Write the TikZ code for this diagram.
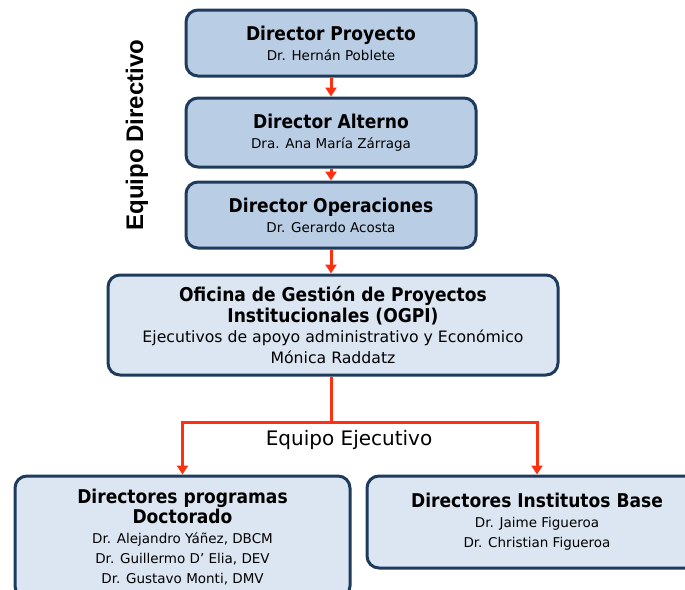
\documentclass[tikz,border=0pt]{standalone}
\usepackage{fontspec}
\setmainfont{DejaVu Sans}
\newfontfamily\condensada{DejaVu Sans Condensed}
\newfontfamily\arialfont{Liberation Sans}[BoldFont={Liberation Sans Bold}]
\usepackage[HTML]{xcolor}
\usetikzlibrary{positioning, arrows, arrows.meta}

\definecolor{borde}{HTML}{1F3B5C}
\definecolor{azul}{HTML}{B9CDE5}
\definecolor{celeste}{HTML}{DCE6F2}
\definecolor{rojo}{HTML}{FF3010}

\newcommand{\titulo}{\condensada\fontsize{19}{20}\selectfont\bfseries}

\begin{document}
\begin{tikzpicture}[x=1pt, y=-1pt,
  cargo/.style={draw=borde, line width=3pt, rounded corners=12pt, align=center,
    inner sep=0pt, font=\fontsize{13.5}{20}\selectfont},
  flecha/.style={draw=rojo, line width=3pt, -{Triangle[width=11pt,length=9pt]}}]
\useasboundingbox (0,0) rectangle (685,589);
\clip (0,0) rectangle (685,589);

% equipo directivo
\node[cargo, fill=azul, minimum width=290pt, minimum height=66pt] (dp) at (331,43)
  {{\titulo Director Proyecto}\\Dr. Hernán Poblete};
\node[cargo, fill=azul, minimum width=290pt, minimum height=69pt] (da) at (331,132.5)
  {{\titulo Director Alterno}\\Dra. Ana María Zárraga};
\node[cargo, fill=azul, minimum width=290pt, minimum height=66pt] (dop) at (331,215)
  {{\titulo Director Operaciones}\\Dr. Gerardo Acosta};
\node[rotate=90, font=\arialfont\bfseries\fontsize{24}{26}\selectfont] (ed) at (137,135) {Equipo Directivo};

% oficina
\node[cargo, fill=celeste, minimum width=450pt, minimum height=100pt,
  font=\fontsize{15.7}{20.5}\selectfont] (ogpi) at (333,325)
  {{\titulo Oficina de Gestión de Proyectos}\\{\titulo Institucionales (OGPI)}\\
   Ejecutivos de apoyo administrativo y Económico\\Mónica Raddatz};

% equipo ejecutivo
\node[cargo, fill=celeste, minimum width=335pt, minimum height=122pt] (dpd) at (182.5,537)
  {{\titulo Directores programas}\\{\titulo Doctorado}\\Dr. Alejandro Yáñez, DBCM\\
   Dr. Guillermo D’ Elia, DEV\\Dr. Gustavo Monti, DMV};
\node[cargo, fill=celeste, minimum width=340pt, minimum height=92pt] (dib) at (537,522)
  {{\titulo Directores Institutos Base}\\Dr. Jaime Figueroa\\Dr. Christian Figueroa};
\node[font=\fontsize{20}{22}\selectfont] (ee) at (349,440) {Equipo Ejecutivo};

\coordinate (rama) at (331,422);

\draw[flecha] (dp) -- (da);
\draw[flecha] (da) -- (dop);
\draw[flecha] (dop.south) -- (dop.south |- ogpi.north);
\draw[draw=rojo, line width=3pt] (ogpi.south -| rama) -- (rama);
\draw[flecha] (rama) -| (dpd.north);
\draw[flecha] (rama) -| (dib.north);
\end{tikzpicture}
\end{document}
